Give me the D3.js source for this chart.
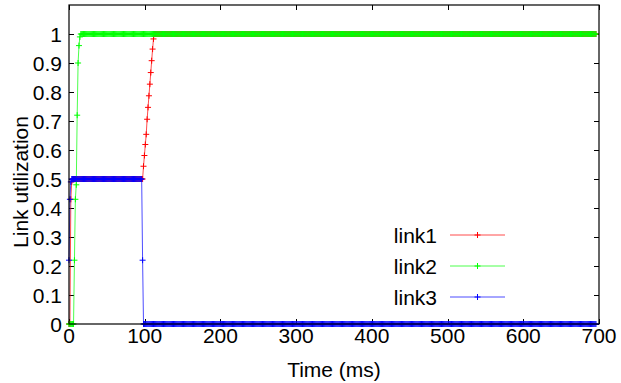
<!DOCTYPE html>
<html>
<head>
<meta charset="utf-8">
<script src="https://cdn.jsdelivr.net/npm/d3@7"></script>
<style>
  body { margin: 0; background: #fff; }
  text { font-family: "Liberation Sans", Arial, sans-serif; font-size: 21px; fill: #000; }
</style>
</head>
<body>
<script>
// sampling interval of the trace, ms
var dt = 1.2;

function hold(v, n) {
    var a = [];
    for (var i = 0; i < n; i++) a.push(v);
    return a;
}

// utilization per sample
var link1Values = [0, 0, 0.43, 0.49].concat(hold(0.5, 78),
    [0.544, 0.581, 0.619, 0.654, 0.706, 0.747, 0.787, 0.827, 0.867, 0.908, 0.948, 0.983],
    hold(1, 487));
var link2Values = hold(0, 6).concat([0.22, 0.43, 0.48, 0.72, 0.90, 0.96, 0.99], hold(1, 568));
var link3Values = [0.22, 0.43, 0.49].concat(hold(0.5, 78), [0.22], hold(0, 499));

var seriesNames = ["link1", "link2", "link3"];
var seriesColors = ["#ff0000", "#00ff00", "#0000ff"];
var xTicks = [0, 100, 200, 300, 400, 500, 600, 700];
var yTicks = [0, 0.1, 0.2, 0.3, 0.4, 0.5, 0.6, 0.7, 0.8, 0.9, 1];

var width = 621, height = 383;
var plotL = 69, plotR = 599, plotT = 5, plotB = 324;

var svg = d3.select("body")
    .append("svg")
    .attr("width", width)
    .attr("height", height);

var x = d3.scaleLinear().domain([0, 700]).range([plotL, plotR]);
var y = d3.scaleLinear().domain([0, 1.1]).range([plotB, plotT]);

var series = [link1Values, link2Values, link3Values].map(function (vals, i) {
    return {
        name: seriesNames[i],
        color: seriesColors[i],
        points: vals.map(function (v, k) { return { t: k * dt, v: v }; })
    };
});

// ticks, drawn inward on all four sides
var tickLen = 5;
var ticks = svg.append("g").attr("stroke", "#000").attr("stroke-width", 1);
xTicks.forEach(function (t) {
    var px = Math.round(x(t)) + 0.5;
    ticks.append("line").attr("x1", px).attr("x2", px).attr("y1", plotB).attr("y2", plotB - tickLen);
    ticks.append("line").attr("x1", px).attr("x2", px).attr("y1", plotT).attr("y2", plotT + tickLen);
});
yTicks.forEach(function (t) {
    var py = Math.round(y(t)) + 0.5;
    ticks.append("line").attr("x1", plotL).attr("x2", plotL + tickLen).attr("y1", py).attr("y2", py);
    ticks.append("line").attr("x1", plotR).attr("x2", plotR - tickLen).attr("y1", py).attr("y2", py);
});

svg.selectAll(".xlab")
    .data(xTicks)
    .enter()
    .append("text")
    .attr("x", function (d) { return x(d); })
    .attr("y", plotB + 19)
    .attr("text-anchor", "middle")
    .text(function (d) { return d; });

svg.selectAll(".ylab")
    .data(yTicks)
    .enter()
    .append("text")
    .attr("x", plotL - 7)
    .attr("y", function (d) { return y(d) + 7.5; })
    .attr("text-anchor", "end")
    .text(function (d) { return d; });

svg.append("text")
    .attr("x", (plotL + plotR) / 2)
    .attr("y", 377)
    .attr("text-anchor", "middle")
    .text("Time (ms)");

svg.append("text")
    .attr("transform", "translate(28,182) rotate(-90)")
    .attr("text-anchor", "middle")
    .text("Link utilization");

var line = d3.line()
    .x(function (d) { return x(d.t); })
    .y(function (d) { return y(d.v); });

function plus(px, py, s) {
    return "M" + (px - s) + "," + py + "h" + (2 * s) + "M" + px + "," + (py - s) + "v" + (2 * s);
}

series.forEach(function (s) {
    var g = svg.append("g");
    g.append("path")
        .datum(s.points)
        .attr("d", line)
        .attr("fill", "none")
        .attr("stroke", s.color)
        .attr("stroke-width", 1)
        .attr("stroke-opacity", 0.7);
    g.append("path")
        .attr("d", s.points.map(function (d) { return plus(x(d.t), y(d.v), 3); }).join(""))
        .attr("fill", "none")
        .attr("stroke", s.color)
        .attr("stroke-width", 1);
});

// border on top of the data
svg.append("rect")
    .attr("x", plotL)
    .attr("y", plotT)
    .attr("width", plotR - plotL)
    .attr("height", plotB - plotT)
    .attr("fill", "none")
    .attr("stroke", "#000")
    .attr("stroke-width", 1.2);

// legend
var legendY = [235, 266, 297];
var legend = svg.selectAll(".legend")
    .data(series)
    .enter()
    .append("g");
legend.append("text")
    .attr("x", 437)
    .attr("y", function (d, i) { return legendY[i] + 7.5; })
    .attr("text-anchor", "end")
    .text(function (d) { return d.name; });
legend.append("line")
    .attr("x1", 450).attr("x2", 505)
    .attr("y1", function (d, i) { return legendY[i]; })
    .attr("y2", function (d, i) { return legendY[i]; })
    .attr("stroke", function (d) { return d.color; })
    .attr("stroke-opacity", 0.7);
legend.append("path")
    .attr("d", function (d, i) { return plus(477.5, legendY[i], 3); })
    .attr("fill", "none")
    .attr("stroke", function (d) { return d.color; });
</script>
</body>
</html>
